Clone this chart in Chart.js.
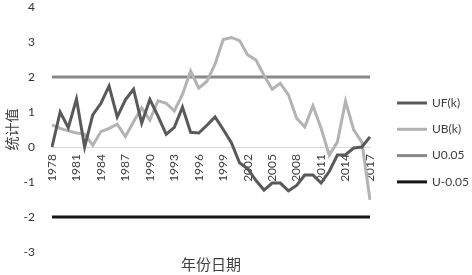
<!DOCTYPE html>
<html>
<head>
<meta charset="utf-8">
<script src="https://cdn.jsdelivr.net/npm/chart.js@4.4.1/dist/chart.umd.min.js"></script>
<style>
html,body{margin:0;padding:0;background:#fff;}
canvas{display:block;}
</style>
</head>
<body>
<canvas id="c" width="472" height="275"></canvas>
<script>
const years = [];
for (let y = 1978; y <= 2017; y++) years.push(String(y));
const ufValues = [0, 1.0, 0.55, 1.37, 0, 0.92, 1.25, 1.74, 0.86, 1.35,
  1.65, 0.68, 1.36, 0.88, 0.36, 0.56, 1.14, 0.42, 0.4, 0.62,
  0.86, 0.5, 0.12, -0.45, -0.62, -0.95, -1.23, -1.03, -1.03, -1.25,
  -1.1, -0.8, -0.8, -1.03, -0.7, -0.23, -0.22, -0.03, 0.0, 0.29];
const ubValues = [0.63, 0.53, 0.46, 0.4, 0.37, 0.05, 0.44, 0.53, 0.65, 0.3,
  0.72, 1.12, 0.77, 1.32, 1.25, 1.03, 1.5, 2.17, 1.68, 1.88,
  2.37, 3.07, 3.13, 3.04, 2.63, 2.49, 2.05, 1.65, 1.82, 1.49,
  0.82, 0.57, 1.18, 0.54, -0.23, 0.14, 1.31, 0.49, 0.14, -1.51];
const upperValue = 2;
const lowerValue = -2;
const upperValues = years.map(() => upperValue);
const lowerValues = years.map(() => lowerValue);
const seriesNames = ['UF(k)', 'UB(k)', 'U0.05', 'U-0.05'];
const yTicks = [-3, -2, -1, 0, 1, 2, 3, 4];
const labelEvery = 3;

const colors = ['#595959', '#b3b3b3', '#888888', '#151515'];

const legendPlugin = {
  id: 'customLegend',
  afterDraw(chart) {
    const ctx = chart.ctx;
    ctx.save();
    ctx.font = '12px Lato';
    ctx.textBaseline = 'middle';
    ctx.textAlign = 'left';
    chart.data.datasets.forEach((ds, i) => {
      const y = 103 + i * 26.3;
      ctx.strokeStyle = ds.borderColor;
      ctx.lineWidth = 3;
      ctx.beginPath();
      ctx.moveTo(397, y);
      ctx.lineTo(427, y);
      ctx.stroke();
      ctx.fillStyle = '#404040';
      ctx.fillText(ds.label, 432, y);
    });
    ctx.restore();
  }
};

const mk = (i, data) => ({
  label: seriesNames[i],
  data: data,
  borderColor: colors[i],
  backgroundColor: colors[i],
  borderWidth: 3,
  pointRadius: 0,
  tension: 0,
  fill: false
});

new Chart(document.getElementById('c'), {
  type: 'line',
  data: {
    labels: years,
    datasets: [mk(0, ufValues), mk(1, ubValues), mk(2, upperValues), mk(3, lowerValues)]
  },
  options: {
    responsive: false,
    animation: false,
    devicePixelRatio: 1,
    layout: { padding: { left: 0, right: 102, top: 7, bottom: 0 } },
    plugins: {
      legend: { display: false },
      tooltip: { enabled: false },
      title: {
        display: true,
        position: 'bottom',
        fullSize: false,
        text: '年份日期',
        color: '#404040',
        font: { family: '"Noto Sans CJK SC"', size: 15, weight: 'normal', lineHeight: 1.2 },
        padding: { top: 3, bottom: 2 }
      }
    },
    scales: {
      x: {
        type: 'category',
        position: { y: 0 },
        offset: false,
        grid: { display: false, drawTicks: false },
        border: { display: true, color: '#d9d9d9', width: 1 },
        ticks: {
          autoSkip: false,
          maxRotation: 90,
          minRotation: 90,
          padding: 7,
          color: '#404040',
          font: { family: 'Lato', size: 12 },
          callback: function(v, i) { return i % labelEvery === 0 ? years[i] : ''; }
        }
      },
      y: {
        min: -3,
        max: 4,
        grid: { display: true, drawOnChartArea: false, drawTicks: true, tickLength: 17, color: 'rgba(0,0,0,0)' },
        border: { display: false },
        afterFit(scale) { scale.width = 52; },
        afterBuildTicks(scale) { scale.ticks = yTicks.map(v => ({ value: v })); },
        ticks: {
          padding: 0,
          color: '#333333',
          font: { family: 'Lato', size: 12, lineHeight: 1 }
        },
        title: {
          display: true,
          text: '统计值',
          color: '#404040',
          font: { family: '"Noto Sans CJK SC"', size: 14, weight: 'normal', lineHeight: 1.2 },
          padding: { top: 3, bottom: 0 }
        }
      }
    }
  },
  plugins: [legendPlugin]
});
</script>
</body>
</html>
